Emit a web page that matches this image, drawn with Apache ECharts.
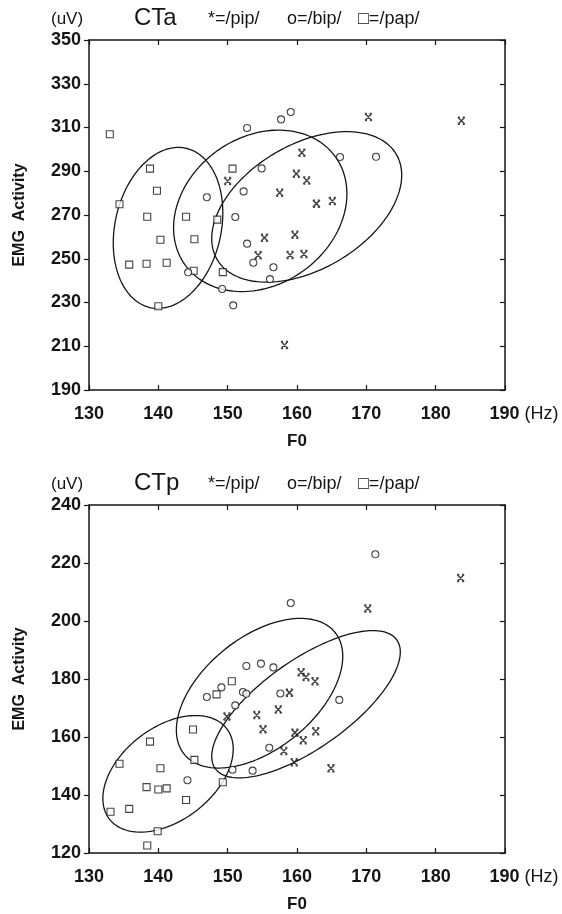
<!DOCTYPE html>
<html lang="en">
<head>
<meta charset="UTF-8">
<script src="https://cdn.jsdelivr.net/npm/echarts@6/dist/echarts.min.js"></script>
<title>CTa / CTp EMG vs F0</title>
<style>
html, body { margin: 0; padding: 0; background: #fff; }
#chart { width: 562px; height: 914px; }
</style>
</head>
<body>
<div id="chart"></div>
<script>
// x axis (F0, Hz) shared by both panels
var f0Ticks = [130, 140, 150, 160, 170, 180, 190];
var ctaTicks = [190, 210, 230, 250, 270, 290, 310, 330, 350];
var ctpTicks = [120, 140, 160, 180, 200, 220, 240];

// CTa panel: [F0, uV]
var ctaPip = [[170.3,314.8],[183.7,313.1],[160.7,298.5],[159.9,288.9],[161.4,285.8],[157.5,280.2],
  [162.8,275.2],[165.1,276.4],[150.0,285.5],[155.3,259.6],[159.7,261.0],[154.4,251.6],
  [159.0,251.7],[161.0,252.2],[158.2,210.6]];
var ctaBip = [[152.8,309.8],[157.7,313.7],[159.1,317.1],[154.9,291.3],[152.3,280.8],[147.0,278.1],
  [151.1,269.1],[152.8,256.9],[153.7,248.2],[156.6,246.1],[156.1,240.7],[144.3,243.8],
  [149.2,236.2],[150.8,228.7],[166.2,296.5],[171.4,296.6]];
var ctaPap = [[133.0,306.9],[134.4,274.9],[138.8,291.2],[139.8,281.1],[138.4,269.2],[140.3,258.7],
  [135.8,247.3],[138.3,247.7],[141.2,248.2],[140.0,228.3],[144.0,269.2],[145.2,258.9],
  [145.1,244.5],[150.7,291.2],[148.5,267.9],[149.3,243.9]];
// ellipses: [centre F0, centre uV, half width, half height, uV offset of rightmost point]
var ctaEllipses = [[141.4,264.1,7.9,36.8,6.9],[154.7,271.9,12.5,36.9,7.8],[161.4,273.7,13.7,34.4,14.5]];

// CTp panel
var ctpPip = [[183.6,214.8],[170.2,204.3],[160.6,182.3],[161.3,180.7],[162.6,179.2],[158.9,175.3],
  [157.3,169.5],[154.2,167.6],[149.9,167.1],[155.1,162.7],[159.7,161.5],[162.7,162.0],
  [160.9,158.9],[158.1,155.2],[159.6,151.3],[164.9,149.2]];
var ctpBip = [[171.3,223.0],[159.1,206.2],[152.7,184.5],[154.8,185.3],[156.6,184.0],[149.1,177.1],
  [147.0,173.8],[152.2,175.5],[152.7,174.9],[157.6,175.0],[166.1,172.8],[151.1,170.9],
  [156.0,156.3],[150.7,148.7],[153.6,148.4],[144.2,145.1]];
var ctpPap = [[150.6,179.2],[148.4,174.7],[145.0,162.6],[138.8,158.4],[134.4,150.8],[140.3,149.2],
  [145.2,152.1],[138.3,142.7],[140.0,141.9],[141.2,142.3],[144.0,138.3],[135.8,135.2],
  [133.1,134.2],[149.3,144.4],[139.9,127.5],[138.4,122.6]];
var ctpEllipses = [[141.4,147.3,9.4,20.1,8.5],[154.6,175.1,12.0,25.8,12.7],[161.3,171.3,13.6,25.4,18.0]];

var ink = '#151515';
var font = '"Liberation Sans", Arial, sans-serif';
var starPath = 'path://M0,0L10,10M10,0L0,10M0,0L3,0M7,0L10,0M0,10L3,10M7,10L10,10';

function ellipseItem(params, api) {
  var cx = api.value(0), cy = api.value(1), hw = api.value(2), hh = api.value(3), b = api.value(4);
  var k = Math.sqrt(hh * hh - b * b);
  var pts = [];
  for (var i = 0; i <= 160; i++) {
    var t = i / 160 * Math.PI * 2;
    pts.push(api.coord([cx + hw * Math.cos(t), cy + b * Math.cos(t) + k * Math.sin(t)]));
  }
  return { type: 'polygon', shape: { points: pts }, style: { fill: 'none', stroke: ink, lineWidth: 1.3 } };
}

function xAxes(grid) {
  var line = { lineStyle: { color: ink, width: 1.5 } };
  return [{
    gridIndex: grid, type: 'value', min: 130, max: 190, interval: 10, position: 'bottom',
    axisLine: line, splitLine: { show: false },
    axisTick: { inside: true, length: 5, customValues: f0Ticks, lineStyle: { color: ink, width: 1.2 } },
    axisLabel: {
      customValues: f0Ticks, margin: 15, color: ink, fontSize: 18, fontWeight: 'bold', fontFamily: font,
      formatter: function (v) { return v === 190 ? '{p|}{n|190}{u| (Hz)}' : '{n|' + v + '}'; },
      rich: {
        p: { width: 38 },
        n: { fontSize: 18, fontWeight: 'bold', fontFamily: font, color: ink },
        u: { fontSize: 18, fontWeight: 'normal', fontFamily: font, color: ink }
      }
    },
    name: 'F0', nameLocation: 'middle', nameGap: 43,
    nameTextStyle: { fontSize: 17, fontWeight: 'bold', fontFamily: font, color: ink }
  }, {
    gridIndex: grid, type: 'value', min: 130, max: 190, interval: 10, position: 'top',
    axisLine: line, splitLine: { show: false }, axisLabel: { show: false },
    axisTick: { inside: true, length: 5, customValues: f0Ticks, lineStyle: { color: ink, width: 1.2 } }
  }];
}

function yAxes(grid, ticks) {
  var line = { lineStyle: { color: ink, width: 1.5 } };
  var lo = ticks[0], hi = ticks[ticks.length - 1];
  return [{
    gridIndex: grid, type: 'value', min: lo, max: hi, interval: 10, position: 'left',
    axisLine: line, splitLine: { show: false },
    axisTick: { inside: false, length: 5, customValues: ticks, lineStyle: { color: ink, width: 1.2 } },
    axisLabel: { customValues: ticks, margin: 8, color: ink, fontSize: 18, fontWeight: 'bold', fontFamily: font },
    name: 'EMG  Activity', nameLocation: 'middle', nameRotate: 90, nameGap: 61,
    nameTextStyle: { fontSize: 16, fontWeight: 'bold', fontFamily: font, color: ink }
  }, {
    gridIndex: grid, type: 'value', min: lo, max: hi, interval: 10, position: 'right',
    axisLine: line, splitLine: { show: false }, axisLabel: { show: false },
    axisTick: { inside: true, length: 5, customValues: ticks, lineStyle: { color: ink, width: 1.2 } }
  }];
}

function panelSeries(grid, pip, bip, pap, ellipses) {
  var xi = grid * 2, yi = grid * 2;
  var mark = { color: '#fff', borderColor: ink, borderWidth: 1.1 };
  return [
    { type: 'custom', xAxisIndex: xi, yAxisIndex: yi, renderItem: ellipseItem, data: ellipses,
      encode: { x: 0, y: 1 }, silent: true, z: 1 },
    { type: 'scatter', xAxisIndex: xi, yAxisIndex: yi, data: pap, symbol: 'rect', symbolSize: 7, itemStyle: mark, z: 3 },
    { type: 'scatter', xAxisIndex: xi, yAxisIndex: yi, data: bip, symbol: 'circle', symbolSize: 7, itemStyle: mark, z: 3 },
    { type: 'scatter', xAxisIndex: xi, yAxisIndex: yi, data: pip, symbol: starPath, symbolSize: 7,
      itemStyle: { color: 'none', borderColor: ink, borderWidth: 1.5 }, z: 3 }
  ];
}

function header(top, name) {
  var txt = { fontSize: 18, fontWeight: 'normal', fontFamily: font, color: ink };
  return [
    { text: '(uV)', left: 51, top: top + 3, padding: 0,
      textStyle: { fontSize: 17, fontWeight: 'normal', fontFamily: font, color: ink } },
    { text: name, left: 134, top: top - 2, padding: 0,
      textStyle: { fontSize: 24, fontWeight: 'normal', fontFamily: font, color: ink } },
    { text: '{a|*=/pip/}{b|o=/bip/}{c|\u25A1=/pap/}', left: 208, top: top + 2, padding: 0,
      textStyle: {
        fontSize: 18, fontFamily: font, color: ink,
        rich: { a: Object.assign({ width: 79 }, txt), b: Object.assign({ width: 71 }, txt), c: txt }
      } }
  ];
}

var chart = echarts.init(document.getElementById('chart'), null, { renderer: 'canvas' });
chart.setOption({
  backgroundColor: '#fff',
  animation: false,
  title: header(8, 'CTa').concat(header(473, 'CTp')),
  grid: [
    { left: 89, right: 57, top: 40, height: 350 },
    { left: 89, right: 57, top: 505, height: 353 }
  ],
  xAxis: xAxes(0).concat(xAxes(1)),
  yAxis: yAxes(0, ctaTicks).concat(yAxes(1, ctpTicks)),
  series: panelSeries(0, ctaPip, ctaBip, ctaPap, ctaEllipses)
    .concat(panelSeries(1, ctpPip, ctpBip, ctpPap, ctpEllipses))
});
</script>
</body>
</html>
